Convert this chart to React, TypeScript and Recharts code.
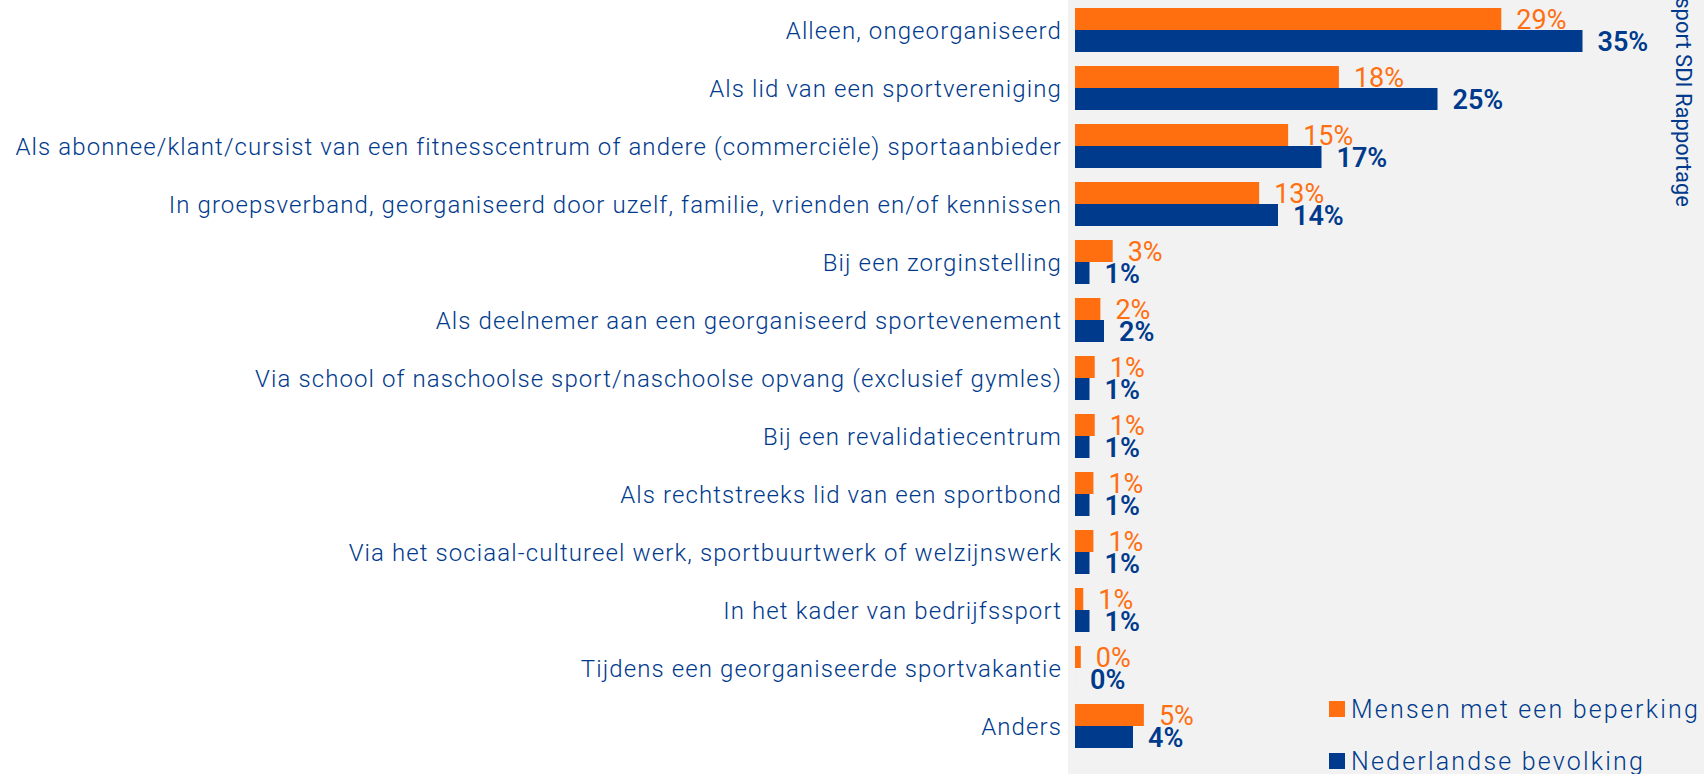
import React from 'react';
import { BarChart, Bar, XAxis, YAxis, LabelList, Legend } from 'recharts';

const categories = [
  'Alleen, ongeorganiseerd',
  'Als lid van een sportvereniging',
  'Als abonnee/klant/cursist van een fitnesscentrum of andere (commerciële) sportaanbieder',
  'In groepsverband, georganiseerd door uzelf, familie, vrienden en/of kennissen',
  'Bij een zorginstelling',
  'Als deelnemer aan een georganiseerd sportevenement',
  'Via school of naschoolse sport/naschoolse opvang (exclusief gymles)',
  'Bij een revalidatiecentrum',
  'Als rechtstreeks lid van een sportbond',
  'Via het sociaal-cultureel werk, sportbuurtwerk of welzijnswerk',
  'In het kader van bedrijfssport',
  'Tijdens een georganiseerde sportvakantie',
  'Anders',
];

const beperking = [29.4, 18.2, 14.7, 12.7, 2.6, 1.75, 1.36, 1.36, 1.27, 1.27, 0.57, 0.4, 4.75];
const bevolking = [35.0, 25.0, 17.0, 14.0, 1.0, 2.0, 1.0, 1.0, 1.0, 1.0, 1.0, 0, 4.0];

const seriesNames = ['Mensen met een beperking', 'Nederlandse bevolking'];
const ORANGE = '#FF6F10';
const BLUE = '#003A8C';
const FONT = 'Roboto, "Open Sans", sans-serif';

const data = categories.map((name, i) => ({
  name,
  beperking: beperking[i],
  bevolking: bevolking[i],
}));

const fmt = (v: any) => `${Math.round(Number(v))}%`;

const renderLegend = (props: any) => {
  const { payload } = props;
  return (
    <div style={{ fontFamily: FONT }}>
      {(payload || []).map((p: any) => (
        <div
          key={p.value}
          style={{ display: 'flex', alignItems: 'center', height: 52, whiteSpace: 'nowrap' }}
        >
          <span
            style={{ display: 'inline-block', width: 16, height: 16, background: p.color, marginRight: 6 }}
          />
          <span style={{ color: BLUE, fontSize: 25, fontWeight: 300, letterSpacing: 2.2 }}>{p.value}</span>
        </div>
      ))}
    </div>
  );
};

export default function App() {
  return (
    <div
      style={{
        position: 'absolute',
        left: 0,
        top: 0,
        width: 1704,
        height: 774,
        background: '#ffffff',
        overflow: 'hidden',
        fontFamily: FONT,
      }}
    >
      <div
        style={{ position: 'absolute', left: 1068, top: 0, width: 636, height: 774, background: '#F2F2F2' }}
      />
      <div style={{ position: 'absolute', left: 0, top: 0 }}>
        <BarChart
          width={1704}
          height={774}
          data={data}
          layout="vertical"
          margin={{ top: 1, right: 49, bottom: 19, left: 0 }}
          barGap={0}
          barSize={22}
        >
          <XAxis type="number" domain={[0, 40]} hide />
          <YAxis
            type="category"
            dataKey="name"
            width={1075}
            axisLine={false}
            tickLine={false}
            tickSize={0}
            tickMargin={13}
            interval={0}
            tick={{ fill: BLUE, fontSize: 24, fontWeight: 300, letterSpacing: 1.1, fontFamily: FONT }}
          />
          <Legend
            layout="horizontal"
            verticalAlign="middle"
            align="center"
            content={renderLegend}
            wrapperStyle={{ position: 'absolute', left: 1329, top: 683, width: 380, height: 104 }}
          />
          <Bar dataKey="beperking" name={seriesNames[0]} fill={ORANGE} isAnimationActive={false}>
            <LabelList
              dataKey="beperking"
              position="right"
              offset={15}
              formatter={fmt}
              fill={ORANGE}
              style={{ fontSize: 27, fontWeight: 400, fontFamily: FONT }}
            />
          </Bar>
          <Bar
            dataKey="bevolking"
            name={seriesNames[1]}
            fill={BLUE}
            minPointSize={0.01}
            isAnimationActive={false}
          >
            <LabelList
              dataKey="bevolking"
              position="right"
              offset={15}
              formatter={fmt}
              fill={BLUE}
              style={{ fontSize: 27, fontWeight: 600, fontFamily: FONT }}
            />
          </Bar>
        </BarChart>
      </div>
      <svg
        width={1704}
        height={774}
        style={{ position: 'absolute', left: 0, top: 0, pointerEvents: 'none' }}
      >
        <text
          x={1683}
          y={207}
          transform="rotate(90 1683 207)"
          textAnchor="end"
          dominantBaseline="central"
          fill={BLUE}
          fontSize={22}
          fontFamily={FONT}
        >
          Bron: Gehandicaptensport SDI Rapportage
        </text>
      </svg>
    </div>
  );
}
